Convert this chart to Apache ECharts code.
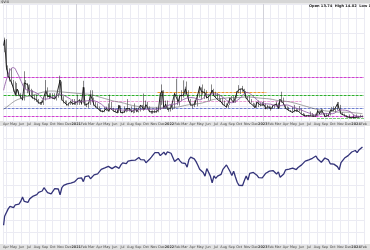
<!DOCTYPE html>
<html><head><meta charset="utf-8">
<script src="https://cdn.jsdelivr.net/npm/echarts@6/dist/echarts.min.js"></script>
<style>html,body{margin:0;padding:0;background:#fff;overflow:hidden}#c{width:370px;height:250px}</style>
</head><body><div id="c"></div>
<script>
// ---------- data ----------
const firstDate = '2020-03-23';
const weekCount = 201; // weekly (Friday) points from 2020-03-27
const dates = [firstDate];
for (let i = 0; i < weekCount; i++) {
  const d = new Date(Date.UTC(2020, 2, 27 + 7 * i));
  dates.push(d.toISOString().slice(0, 10));
}

const vixClose = [61.6,65.5,46.8,41.2,38.2,35.9,37.2,27.98,31.89,28.16,27.51,24.52,36.09,35.12,34.73,27.68,27.29,25.68,25.84,24.46,22.21,22.05,22.54,22.96,30.75,26.87,25.83,26.38,27.63,25.0,27.41,27.55,38.02,24.86,23.1,23.7,20.84,20.79,23.31,21.57,21.53,22.75,
21.56,24.34,21.91,33.09,20.87,19.97,22.05,27.95,24.66,20.69,20.95,18.86,17.33,16.69,16.25,17.33,18.61,16.69,18.81,20.15,16.76,16.42,15.65,20.7,15.62,15.07,16.18,18.45,17.2,18.24,16.15,15.45,18.56,16.39,16.41,20.95,20.81,17.75,21.15,18.77,16.3,15.43,16.26,16.48,16.29,17.91,28.62,30.67,18.69,21.57,17.96,17.22,
18.76,19.19,28.85,27.66,23.22,27.36,27.75,27.59,31.98,30.75,23.87,20.81,19.63,21.16,24.37,28.21,33.4,30.19,28.87,29.43,25.72,24.79,27.75,31.13,27.23,26.7,24.64,24.23,23.03,21.33,21.15,19.53,20.6,25.56,25.47,22.79,26.3,29.92,31.62,31.36,32.02,29.69,25.75,24.55,22.52,23.12,20.5,19.06,22.83,22.62,20.87,21.67,
21.13,18.35,19.85,18.51,18.33,20.53,20.02,21.67,18.49,24.8,25.51,21.74,18.7,18.4,17.07,16.77,15.78,17.19,17.03,16.81,17.95,14.6,13.83,13.54,13.44,13.59,14.83,13.34,13.6,13.33,17.1,14.84,17.3,15.68,13.09,13.84,13.79,17.2,17.52,17.45,19.32,21.71,21.27,14.91,14.17,13.8,12.46,12.63,12.35,12.28,13.03,12.45,
13.35,12.7,13.3,13.26];

const vixLow = [55,57,45,40,37,35,30,27,27,27,25,24,24,32,29,27,26,25,24,23,22,21,21,21,24,26,25,26,25,25,24,26,28,24,22,22,20.5,20,21,21,21,21,
21,21,21,22,20.5,19.5,19,21,24,20.5,19,18.5,17,16.2,16,16,16.8,16.5,16.5,18,16.5,16,15.3,15.5,15.5,15,15.5,16,16.5,16.5,16,15.2,15.5,16,15.8,16.5,18,17,18.5,18.5,16.2,15,15,15.5,15.7,16,17.5,21,18.5,18.5,17.8,16.3,
16.5,17.5,18.5,27,21,20.5,24,26,28,28,23.5,20.5,18.6,19.5,21,20,26,25,28,25,25.5,24,24,29,27,26,24.5,24,23,21,20.5,19,19,21,24.5,22.5,22.5,25.5,29,28.5,30,29,25.5,24.5,22,22.5,20,19,19,19.5,20,20.5,
20.5,18,18,18.5,17,18.5,18.5,20,18.5,18.5,22.5,21,18.5,18,17,16.5,15.5,16,16.2,16.5,16.5,14.5,13.5,13.3,12.9,13.2,13.5,13.3,13,13,13.5,14.5,15,15.5,13,13,13,13.8,16.5,17,16,17.5,19,14.8,14,13.5,12.4,12.3,12.2,12,11.8,12,
12.5,12.2,12.5,12.5];

const vixHigh = [66.6,67,66,48,46,46,38,37,36,31,29,28,44,38,36,35,32,31,28,28,25,23,24,24,38,33,29,29,29,29,27.5,29,41,37,27,24,24,22.5,24,25,25,23.5,
28,25,24.5,37.5,33,22,23,31,31,26,23,22,20,18.5,17.5,19.5,19.8,22,28,23,19,18.5,17.5,21,20.5,16.5,20,18.7,25,19,20,17,22,19,17,21,21,28.8,24,23,20,17,17.3,17.5,19.5,19,29,35,31,24,24,18.5,
21,21,29,38.9,27,28,31,37.8,33.5,37,31,25,21,24,24.5,28.5,34,33,35,32,31,27,29,35,32,30,29,28,25.5,26,24,22,21,26,27,27,27.5,30.5,34.5,32,34,32,30.5,27,27,25,22.5,22,23,24,22.5,23,
23.5,22,21,20.5,20,21,21,23.2,22.5,25,30,26,21,20,19.5,17.5,19.5,21,18.5,18,20.2,18.5,15.5,15,14,14.2,16.5,15.5,14.5,15,18,17,18.5,18,15.5,15.5,14.5,18,19.5,20,19.5,23,23,21,16,15,14,13.5,14.5,13,14.5,13,
14.5,13.5,14.3,13.7];

const spx = [2237,2541,2489,2790,2875,2837,2831,2930,2864,2955,3044,3194,3041,3098,3009,3130,3185,3225,3216,3271,3351,3373,3397,3508,3427,3341,3319,3298,3348,3477,3484,3465,3270,3510,3585,3558,3638,3699,3663,3709,3703,3756,
3825,3768,3841,3714,3887,3934,3907,3811,3842,3943,3913,3975,4020,4129,4185,4180,4181,4233,4174,4156,4204,4230,4247,4166,4281,4352,4370,4327,4412,4395,4437,4468,4442,4509,4535,4459,4433,4455,4357,4391,4471,4545,4605,4697,4683,4698,4595,4538,4712,4620,4726,4766,
4677,4663,4398,4432,4501,4419,4349,4385,4329,4204,4463,4543,4546,4488,4393,4272,4132,4123,4024,3901,4158,4109,3901,3675,3912,3825,3899,3863,3962,4130,4145,4280,4228,4058,3924,4067,3873,3693,3586,3640,3583,3753,3901,3771,3993,3965,4026,4072,3934,3852,3845,3840,
3895,3999,3972,4071,4136,4090,4079,3970,4046,3862,3917,3971,4109,4105,4138,4133,4169,4136,4124,4192,4205,4282,4299,4410,4348,4450,4399,4505,4536,4582,4478,4464,4370,4406,4516,4457,4450,4320,4288,4308,4327,4224,4117,4358,4415,4514,4559,4595,4604,4719,4754,4770,
4697,4784,4840,4891];

// moving-average overlays (monthly points)
const maDates = ['2020-03-23','2020-04-15','2020-04-30','2020-05-15','2020-05-31','2020-06-15','2020-06-30','2020-07-31','2020-08-31','2020-09-30','2020-10-31','2020-11-30','2020-12-31',
'2021-01-31','2021-02-28','2021-03-31','2021-04-30','2021-05-31','2021-06-30','2021-07-31','2021-08-31','2021-09-30','2021-10-31','2021-11-30','2021-12-31',
'2022-01-31','2022-02-28','2022-03-31','2022-04-30','2022-05-31','2022-06-30','2022-07-31','2022-08-31','2022-09-30','2022-10-31','2022-11-30','2022-12-31',
'2023-01-31','2023-02-28','2023-03-31','2023-04-30','2023-05-31','2023-06-30','2023-07-31','2023-08-31','2023-09-30','2023-10-31','2023-11-30','2023-12-31','2024-01-26'];
const ma50 = [31,44,46.5,43,37,32,31,29,25,26,28,26,23,
23.5,24,22.5,19,18,17.5,17.3,17.7,18,18,18.5,21,
22,25,26,24.5,28,28.5,26,22.5,25,29.5,26,22,
21.5,20.3,21,19.5,17.5,15.5,14,15,15,17.5,17,13.5,13];
const ma200 = [18,21,23,24.5,25.5,26.5,27,28.5,30,30.5,30,29.5,29,
28.5,28,26.5,25,23.5,22.5,21,20,19.5,19,19,19,
19.5,20.5,21.5,22,23.5,25,25.5,26,26,26.5,26,25.5,
25,24,23.5,22.5,21,19.5,18,17,16.5,16,16,15.5,15];

const xMin = '2020-03-23', xMax = '2024-02-01';
// reference levels (VIX): value, start, end, colour
const levelValues = [39.74, 27.44, 18.55, 13.08, 29.5, 23.33, 11.71];
const levelStarts = [xMin, xMin, xMin, xMin, '2021-11-15', '2021-03-01', '2023-08-01'];
const levelEnds   = [xMax, xMax, xMax, xMax, '2023-01-15', '2023-06-01', xMax];
const levelColors = ['#d040d0', '#30b030', '#7080d0', '#d040d0', '#f09a30', '#eaa0d8', '#80c880'];
const yearLines = ['2021-01-01', '2023-01-01'];

// ---------- chart ----------
const chart = echarts.init(document.getElementById('c'), null, {renderer: 'canvas'});
const gridLine = {show: true, lineStyle: {color: '#ebebf3', width: 1}};
const xAxisCommon = {
  type: 'time', min: xMin, max: xMax,
  minInterval: 28 * 86400000, maxInterval: 31 * 86400000, splitNumber: 48,
  axisLine: {show: false}, axisTick: {show: false},
  splitLine: gridLine,
  axisLabel: {show: true, fontSize: 3.4, color: '#444', margin: 1, lineHeight: 4, fontFamily: 'DejaVu Sans', hideOverlap: false}
};

const candleData = dates.map((d, i) => [d, vixLow[i], vixHigh[i], vixLow[i], vixHigh[i]]);
const closeData = dates.map((d, i) => [d, vixClose[i]]);
const spxData = dates.map((d, i) => [d, spx[i]]);

const levelSeries = levelValues.map((v, i) => ({
  type: 'line', xAxisIndex: 0, yAxisIndex: 0, silent: true, showSymbol: false, z: 2,
  data: [[levelStarts[i], v], [levelEnds[i], v]],
  lineStyle: {color: levelColors[i], type: [3, 1], width: 1.2}
}));

chart.setOption({
  animation: false,
  backgroundColor: '#fff',
  grid: [
    {left: 0, right: 0, top: 4, height: 117},
    {left: 0, right: 0, top: 126, height: 118}
  ],
  xAxis: [
    Object.assign({gridIndex: 0}, xAxisCommon),
    Object.assign({gridIndex: 1}, xAxisCommon)
  ],
  yAxis: [
    {gridIndex: 0, type: 'value', min: 10, max: 90, interval: 10, axisLabel: {show: false}, axisLine: {show: false}, axisTick: {show: false}, splitLine: gridLine},
    {gridIndex: 1, type: 'value', min: 1600, max: 5600, interval: 400, axisLabel: {show: false}, axisLine: {show: false}, axisTick: {show: false}, splitLine: gridLine}
  ],
  graphic: [
    {type: 'rect', z: -1, silent: true, shape: {x: 0, y: 0, width: 370, height: 3.5}, style: {fill: '#d6d6d6'}},
    {type: 'rect', z: -1, silent: true, shape: {x: 0, y: 121, width: 370, height: 5}, style: {fill: '#e2e2e2'}},
    {type: 'rect', z: -1, silent: true, shape: {x: 0, y: 244, width: 370, height: 6}, style: {fill: '#e2e2e2'}},
    {type: 'text', z: 10, silent: true, left: 1, top: 0, style: {text: '$VIX', font: '3.5px "DejaVu Sans"', fill: '#333'}},
    {type: 'text', z: 10, silent: true, left: 309, top: 4.5, style: {text: 'Open 13.74  High 14.02  Low 13.36  Close 13.88', font: 'bold 3.6px "DejaVu Sans"', fill: '#222'}}
  ],
  series: levelSeries.concat([
    {
      type: 'candlestick', xAxisIndex: 0, yAxisIndex: 0, data: candleData, barWidth: 1.3,
      itemStyle: {color: '#111', color0: '#111', borderColor: '#111', borderColor0: '#111', borderWidth: 0.5},
      z: 3
    },
    {
      type: 'line', xAxisIndex: 0, yAxisIndex: 0, data: closeData, showSymbol: false,
      lineStyle: {color: '#111', width: 0.9}, z: 4,
      markLine: {silent: true, symbol: 'none', label: {show: false},
        data: yearLines.map(y => ({xAxis: y, lineStyle: {color: '#d2d2da', type: 'solid', width: 1}})), z: 1}
    },
    {
      type: 'line', xAxisIndex: 0, yAxisIndex: 0, data: maDates.map((d, i) => [d, ma200[i]]), showSymbol: false, smooth: true,
      lineStyle: {color: '#666', width: 0.6}, z: 5
    },
    {
      type: 'line', xAxisIndex: 0, yAxisIndex: 0, data: maDates.map((d, i) => [d, ma50[i]]), showSymbol: false, smooth: true,
      lineStyle: {color: '#8a4f9e', width: 0.8}, z: 5
    },
    {
      type: 'line', xAxisIndex: 1, yAxisIndex: 1, data: spxData, showSymbol: false,
      lineStyle: {color: '#34347a', width: 1.3}, z: 3
    }
  ])
});
</script>
</body></html>
